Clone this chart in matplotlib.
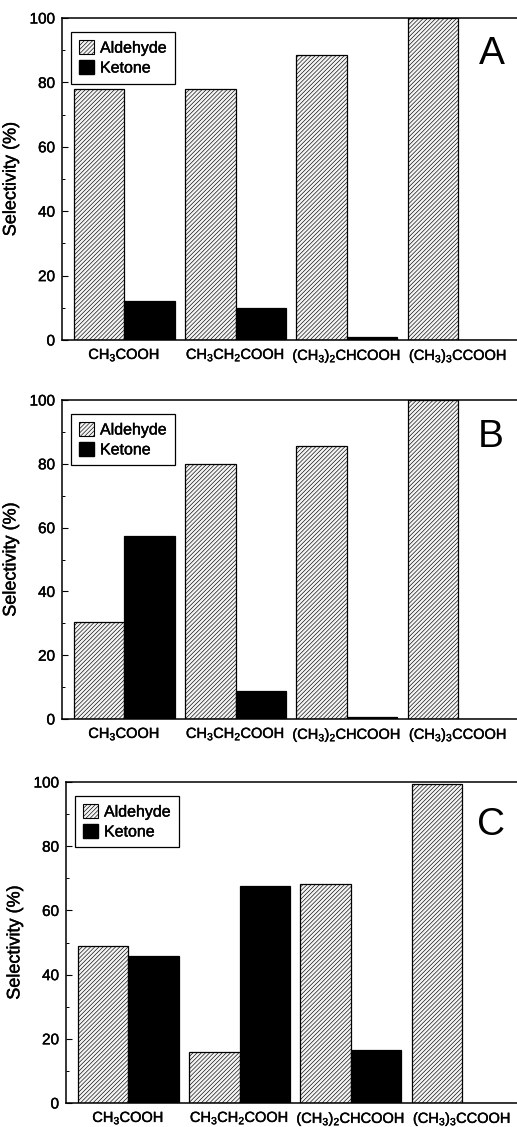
import matplotlib
matplotlib.use('Agg')
import matplotlib.pyplot as plt
import matplotlib.patheffects as pe
import numpy as np
from matplotlib.patches import Patch

plt.rcParams['font.family'] = ['Liberation Sans', 'DejaVu Sans']
plt.rcParams['mathtext.fontset'] = 'custom'
plt.rcParams['mathtext.rm'] = 'Liberation Sans'
plt.rcParams['mathtext.it'] = 'Liberation Sans:italic'
plt.rcParams['mathtext.default'] = 'rm'
plt.rcParams['hatch.linewidth'] = 0.45

# ---- data ----
acids = [r'CH$_3$COOH', r'CH$_3$CH$_2$COOH', r'(CH$_3$)$_2$CHCOOH', r'(CH$_3$)$_3$CCOOH']
panel_letters = ['A', 'B', 'C']
aldehyde_A = [78, 78, 88.5, 100]
ketone_A = [12, 10, 1, 0]
aldehyde_B = [30.5, 80, 85.5, 100]
ketone_B = [57.5, 8.7, 0.7, 0]
aldehyde_C = [48.8, 15.8, 68.3, 99.5]
ketone_C = [45.7, 67.5, 16.4, 0]
yticks = [0, 20, 40, 60, 80, 100]

W, H = 517, 1127
fig = plt.figure(figsize=(W / 100, H / 100), dpi=100)

# axes boxes in pixels: left, top, bottom
boxes = [(62, 18, 340), (62, 400, 719), (66, 782, 1103)]
letter_pos = [(0.929, 0.888), (0.925, 0.884), (0.918, 0.866)]
data = [(aldehyde_A, ketone_A), (aldehyde_B, ketone_B), (aldehyde_C, ketone_C)]

x = np.arange(len(acids))
w = 0.454
xlim = (-0.56, 3.6)
spacing_px = 111.3
width_px = (xlim[1] - xlim[0]) * spacing_px
bold = [pe.withStroke(linewidth=0.3, foreground='black')]
hatch_face = '#f4f4f4'
hatch_pat = '////////'

for (left, top, bottom), (ald, ket), letter, lp in zip(boxes, data, panel_letters, letter_pos):
    ax = fig.add_axes([left / W, 1 - bottom / H, width_px / W, (bottom - top) / H])
    ax.bar(x - w / 2, ald, width=w, facecolor=hatch_face, edgecolor='black',
           hatch=hatch_pat, linewidth=0.9, label='Aldehyde')
    ax.bar(x + w / 2, ket, width=w, facecolor='black', edgecolor='black',
           linewidth=0.9, label='Ketone')
    ax.set_xlim(*xlim)
    ax.set_ylim(0, 100)
    ax.set_yticks(yticks)
    ax.set_yticks(np.arange(10, 100, 20), minor=True)
    ax.tick_params(axis='y', direction='in', length=4, width=0.8, labelsize=11, pad=5)
    ax.tick_params(axis='y', which='minor', direction='in', length=2, width=0.7)
    ax.set_xticks(x)
    ax.set_xticklabels(acids, fontsize=10.5)
    ax.tick_params(axis='x', length=0, pad=5)
    for s in ['left', 'bottom', 'top']:
        ax.spines[s].set_linewidth(1.1)
    ax.spines['right'].set_visible(False)
    ax.set_ylabel('Selectivity (%)', fontsize=13)
    ax.yaxis.set_label_coords(-0.092, 0.5)
    handles = [Patch(facecolor=hatch_face, edgecolor='black', hatch=hatch_pat, linewidth=0.8),
               Patch(facecolor='black', edgecolor='black')]
    leg = ax.legend(handles, ['Aldehyde', 'Ketone'], loc='upper left',
                    bbox_to_anchor=(0.02, 0.955), borderaxespad=0, fancybox=False,
                    framealpha=1, edgecolor='black', fontsize=11.5,
                    handlelength=0.9, handleheight=0.9, handletextpad=0.4,
                    labelspacing=0.3, borderpad=0.5)
    leg.get_frame().set_linewidth(0.9)
    t = ax.text(lp[0], lp[1], letter, transform=ax.transAxes, fontsize=28,
                ha='center', va='center')
    texts = ax.get_xticklabels() + ax.get_yticklabels() + [ax.yaxis.label] + leg.get_texts()
    for tx in texts:
        tx.set_path_effects(bold)

fig.savefig('out.png', dpi=100)
